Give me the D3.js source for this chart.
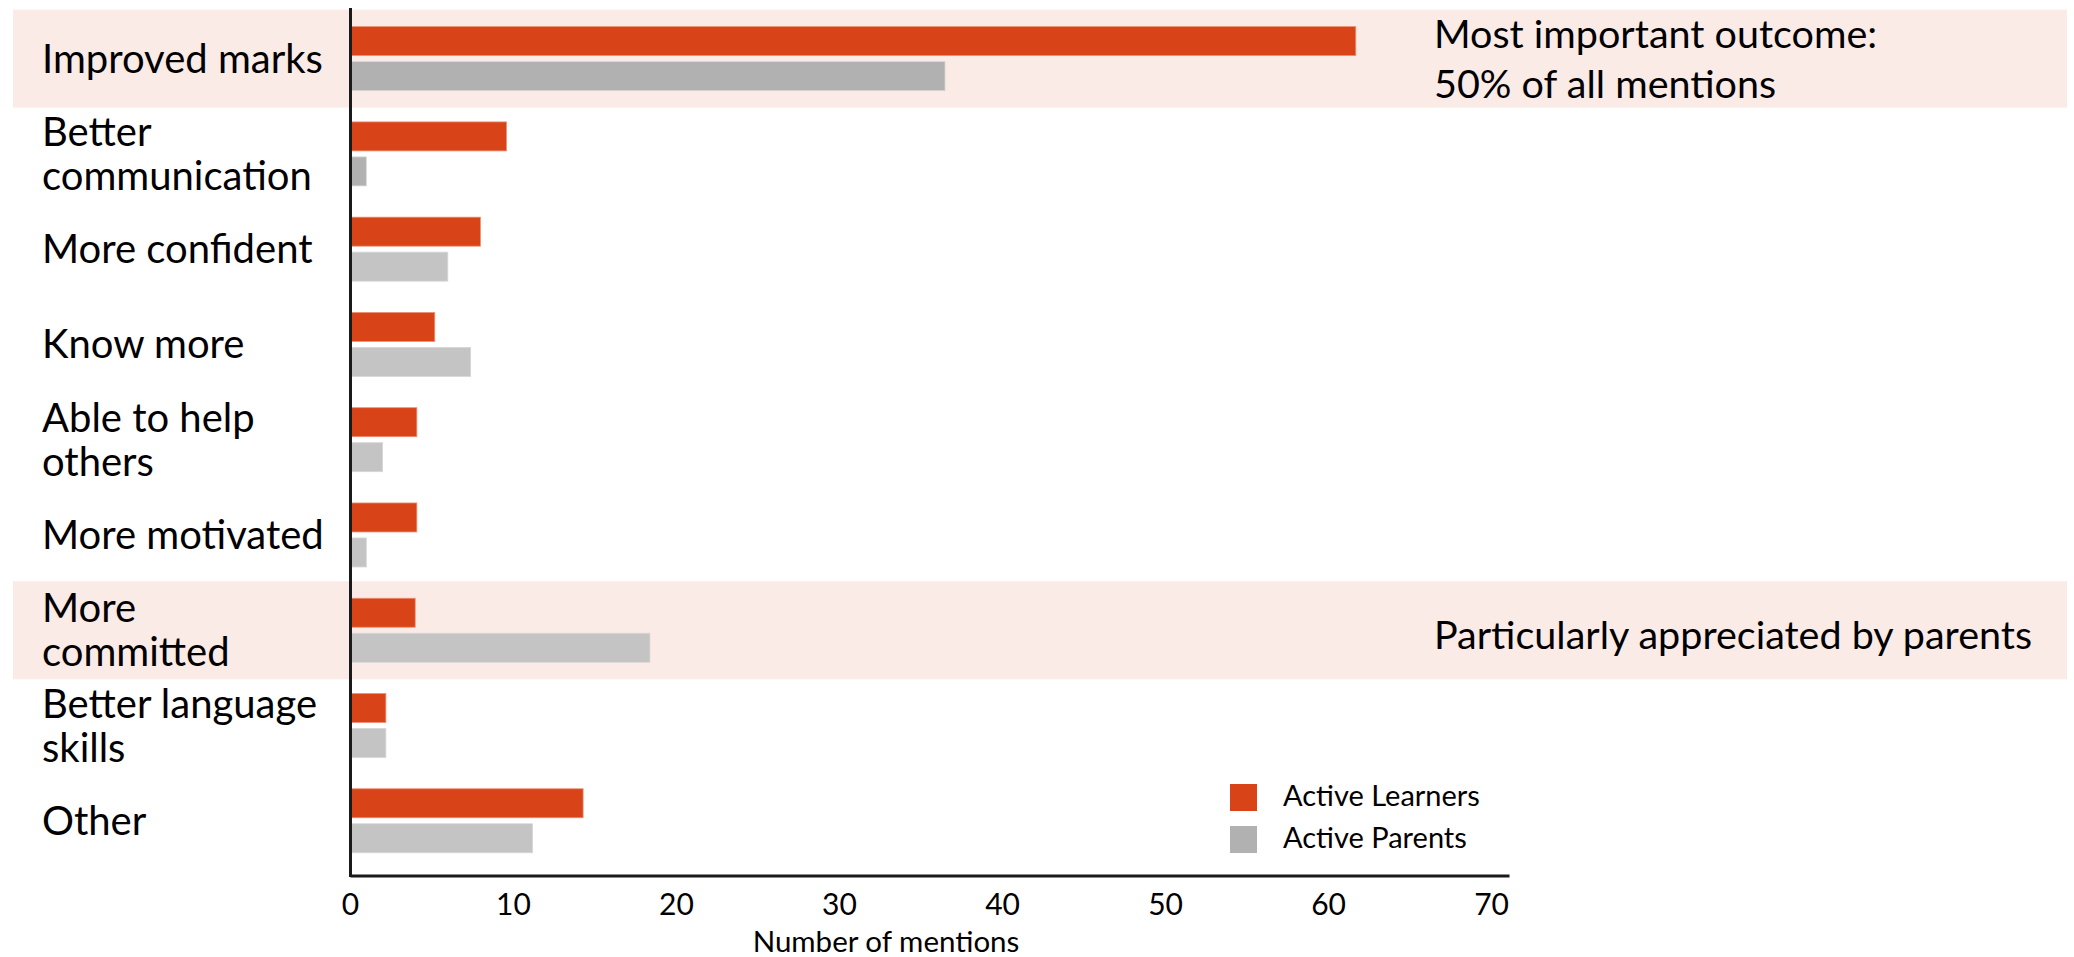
<!DOCTYPE html>
<html>
<head>
<meta charset="utf-8">
<script src="https://cdn.jsdelivr.net/npm/d3@7"></script>
<style>
  html, body { margin: 0; padding: 0; background: #ffffff; }
  svg { display: block; }
  text { font-family: Lato, "Open Sans", "DejaVu Sans", sans-serif; fill: #000; }
</style>
</head>
<body>
<svg id="chart" width="2074" height="957"></svg>
<script>
// ---------------- DATA ----------------
const categories = [
  "Improved marks", "Better communication", "More confident", "Know more",
  "Able to help others", "More motivated", "More committed",
  "Better language skills", "Other"
];
// how each category label wraps onto lines
const categoryLines = [
  ["Improved marks"], ["Better", "communication"], ["More confident"], ["Know more"],
  ["Able to help", "others"], ["More motivated"], ["More", "committed"],
  ["Better language", "skills"], ["Other"]
];
const seriesNames = ["Active Learners", "Active Parents"];
const learners = [61.7, 9.6, 8.0, 5.2, 4.1, 4.1, 4.0, 2.2, 14.3];
const parents  = [36.5, 1.0, 6.0, 7.4, 2.0, 1.0, 18.4, 2.2, 11.2];
const xTicks = [0, 10, 20, 30, 40, 50, 60, 70];
const xTitle = "Number of mentions";
const highlightCategories = ["Improved marks", "More committed"];
const highlightNotes = [
  ["Most important outcome:", "50% of all mentions"],
  ["Particularly appreciated by parents"]
];

// ---------------- STYLE ----------------
const RED = "#d84318";
const RED_EDGE = "#ec8f74";
const GREY_DARK = "#b1b1b1";
const GREY_LIGHT = "#c4c4c4";
const GREY_EDGE = "#d6d6d6";
const HIGHLIGHT = "#fbebe7";
const darkGreyCats = new Set(["Improved marks", "Better communication"]);
const LABEL_SIZE = 40;

const svg = d3.select("#chart");

const x = d3.scaleLinear().domain([0, 71.1]).range([350, 1509]);
const y = d3.scaleBand().domain(categories).range([11, 868.4]).paddingInner(0).paddingOuter(0);
const ys = d3.scaleBand().domain(seriesNames).range([-32, 32]).paddingInner(0.1714);
const center = c => y(c) + y.bandwidth() / 2;

const rows = categories.map((c, i) => ({
  cat: c, lines: categoryLines[i], values: [learners[i], parents[i]]
}));

// highlight bands
svg.append("g").selectAll("rect")
  .data(highlightCategories)
  .join("rect")
  .attr("x", 13)
  .attr("width", 2067 - 13)
  .attr("y", d => center(d) - 49)
  .attr("height", 98)
  .attr("fill", HIGHLIGHT);

// bars
const barG = svg.append("g");
rows.forEach(r => {
  seriesNames.forEach((s, si) => {
    const isRed = si === 0;
    const fill = isRed ? RED : (darkGreyCats.has(r.cat) ? GREY_DARK : GREY_LIGHT);
    barG.append("rect")
      .attr("x", x(0))
      .attr("y", center(r.cat) + ys(s))
      .attr("width", x(r.values[si]) - x(0))
      .attr("height", ys.bandwidth())
      .attr("fill", fill)
      .attr("stroke", isRed ? RED_EDGE : GREY_EDGE)
      .attr("stroke-width", 0.8);
  });
});

// category labels
const labG = svg.append("g");
rows.forEach(r => {
  const c = center(r.cat);
  const t = labG.append("text")
    .attr("x", 42)
    .attr("font-size", LABEL_SIZE);
  if (r.lines.length === 1) {
    t.append("tspan").attr("x", 42).attr("y", c + 14).text(r.lines[0]);
  } else {
    t.append("tspan").attr("x", 42).attr("y", c - 8).text(r.lines[0]);
    t.append("tspan").attr("x", 42).attr("y", c + 36).text(r.lines[1]);
  }
});

// x axis
const xAxis = d3.axisBottom(x).tickValues(xTicks).tickSize(0).tickSizeOuter(0).tickFormat(d3.format("d"));
const xg = svg.append("g").attr("transform", "translate(0,875.5)").call(xAxis);
xg.select(".domain").attr("stroke", "#1a1a1a").attr("stroke-width", 3);
xg.selectAll(".tick text")
  .attr("y", 39).attr("dy", 0)
  .attr("font-size", 30)
  .attr("font-family", "Lato, 'Open Sans', sans-serif")
  .attr("fill", "#000");

// y axis line
svg.append("line")
  .attr("x1", 350.5).attr("x2", 350.5)
  .attr("y1", 8).attr("y2", 877)
  .attr("stroke", "#1a1a1a").attr("stroke-width", 3);

// x axis title
svg.append("text")
  .attr("x", 886).attr("y", 952)
  .attr("text-anchor", "middle")
  .attr("font-size", 29.5)
  .text(xTitle);

// highlight notes
highlightCategories.forEach((c, i) => {
  const lines = highlightNotes[i];
  const cy = center(c);
  const t = svg.append("text").attr("font-size", LABEL_SIZE - 0.5);
  if (lines.length === 1) {
    t.append("tspan").attr("x", 1434).attr("y", cy + 19).text(lines[0]);
  } else {
    t.append("tspan").attr("x", 1434).attr("y", cy - 11).text(lines[0]);
    t.append("tspan").attr("x", 1434).attr("y", cy + 39).text(lines[1]);
  }
});

// legend
const legend = svg.append("g").selectAll("g")
  .data(seriesNames)
  .join("g")
  .attr("transform", (d, i) => `translate(1230,${784 + i * 42})`);
legend.append("rect")
  .attr("width", 27).attr("height", 27)
  .attr("fill", (d, i) => i === 0 ? RED : GREY_DARK);
legend.append("text")
  .attr("x", 53).attr("y", 22)
  .attr("font-size", 29)
  .text(d => d);
</script>
</body>
</html>
